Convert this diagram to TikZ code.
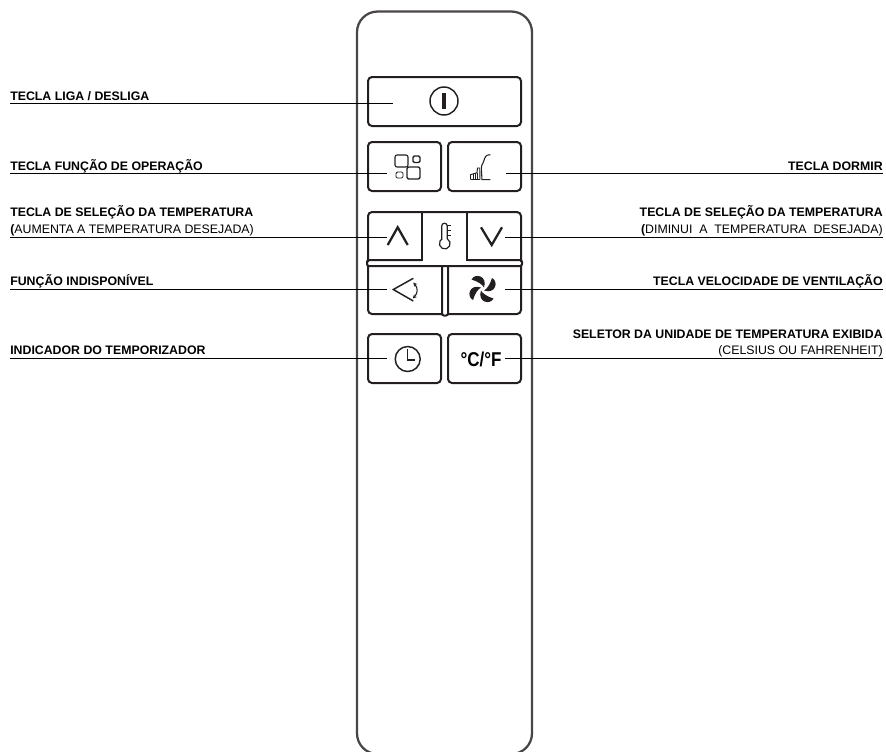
\documentclass[tikz,border=0pt]{standalone}
\usepackage{fontspec}
\setmainfont{Liberation Sans}
\usetikzlibrary{arrows.meta}
\definecolor{ink}{HTML}{231F20}
\definecolor{shell}{HTML}{4A4648}
\tikzset{
  shellline/.style={draw=shell,line width=1.7pt},
  keybox/.style={draw=ink,line width=1.5pt,rounded corners=3pt},
  leader/.style={draw=black,line width=0.8pt},
  icon/.style={draw=ink,line width=0.9pt},
  iconthick/.style={draw=ink,line width=1.7pt},
  lab/.style={inner sep=0pt,font=\fontsize{9.25pt}{10pt}\selectfont\bfseries},
  labn/.style={inner sep=0pt,font=\fontsize{9.25pt}{10pt}\selectfont},
}
\begin{document}
\begin{tikzpicture}[x=0.75pt,y=-0.75pt]
\useasboundingbox (0,0) rectangle (886,751);
% body
\begin{scope}
\clip (0,0) rectangle (886,751);
\draw[shellline,rounded corners=15.5pt] (357,11.5) rectangle (532,754);
\end{scope}
% keys
\draw[keybox] (368,77) rectangle (521,126);
\draw[keybox] (368,142) rectangle (441,191);
\draw[keybox] (448,142) rectangle (521,191);
\draw[keybox] (368,334) rectangle (441,383);
\draw[keybox] (448,334) rectangle (521,383);
\draw[keybox] (368,262) -- (368,212) -- (422,212) -- (467,212) -- (521,212) -- (521,262);
\draw[draw=ink,line width=1.9pt] (422,212) -- (422,260) -- (368,260);
\draw[draw=ink,line width=1.9pt] (467,212) -- (467,260) -- (521,260);
\draw[keybox] (368,265) -- (368,314) -- (442,314);
\draw[keybox] (521,265) -- (521,314) -- (448,314);
\draw[draw=ink,line width=1.5pt,rounded corners=1.5pt] (422,260) -- (367,260) -- (367,266) -- (522,266) -- (522,260) -- (467,260);
\draw[draw=ink,line width=1.5pt,rounded corners=1.5pt] (442,266) -- (442,315.5) -- (448,315.5) -- (448,266);
% leaders (nodes + coordinates)
\coordinate (kpow) at (393,103.5);
\coordinate (kfun) at (387,173.5);
\coordinate (kslp) at (506,173.5);
\coordinate (kup) at (387,237.5);
\coordinate (kdn) at (505,237.5);
\coordinate (kswg) at (387,289.5);
\coordinate (kfan) at (505,289.5);
\coordinate (ktim) at (387,358.5);
\coordinate (kunit) at (505,358.5);
\node[lab,anchor=base west] (tpow) at (10,100) {TECLA LIGA / DESLIGA};
\coordinate (lpow) at (10,103.5);
\node[lab,anchor=base west] (tfun) at (10,170) {TECLA FUNÇÃO DE OPERAÇÃO};
\coordinate (lfun) at (10,173.5);
\node[lab,anchor=base west] (tup) at (10,216) {TECLA DE SELEÇÃO DA TEMPERATURA};
\node[labn,anchor=base west] (tup2) at (10,233.5) {\textbf{(}AUMENTA A TEMPERATURA DESEJADA)};
\coordinate (lup) at (10,237.5);
\node[lab,anchor=base west] (tswg) at (10,285) {FUNÇÃO INDISPONÍVEL};
\coordinate (lswg) at (10,289.5);
\node[lab,anchor=base west] (ttim) at (10,354) {INDICADOR DO TEMPORIZADOR};
\coordinate (ltim) at (10,358.5);
\node[lab,anchor=base east] (tslp) at (883,170) {TECLA DORMIR};
\coordinate (rslp) at (883,173.5);
\node[lab,anchor=base east] (tdn) at (883,216) {TECLA DE SELEÇÃO DA TEMPERATURA};
\node[labn,anchor=base east] (tdn2) at (883,233.5) {\textbf{(}DIMINUI\ \ A\ \ TEMPERATURA\ \ DESEJADA)};
\coordinate (rdn) at (883,237.5);
\node[lab,anchor=base east] (tfan) at (883,285) {TECLA VELOCIDADE DE VENTILAÇÃO};
\coordinate (rfan) at (883,289.5);
\node[lab,anchor=base east] (tunit) at (883,338) {SELETOR DA UNIDADE DE TEMPERATURA EXIBIDA};
\node[labn,anchor=base east] (tunit2) at (883,354) {(CELSIUS OU FAHRENHEIT)};
\coordinate (runit) at (883,358.5);
\draw[leader] (lpow) -- (kpow);
\draw[leader] (lfun) -- (kfun);
\draw[leader] (rslp) -- (kslp);
\draw[leader] (lup) -- (kup);
\draw[leader] (rdn) -- (kdn);
\draw[leader] (lswg) -- (kswg);
\draw[leader] (rfan) -- (kfan);
\draw[leader] (ltim) -- (ktim);
\draw[leader] (runit) -- (kunit);
% power icon
\draw[icon,line width=1.1pt] (444,101) circle[radius=14];
\fill[ink] (442,93) rectangle (446,108.5);
% function icon
\draw[icon,rounded corners=1.5pt,line width=0.8pt] (395,155) rectangle (408,167);
\draw[icon,rounded corners=1pt,line width=1pt] (413,156) rectangle (420,162.5);
\draw[icon,rounded corners=1pt,line width=0.7pt] (396,172) rectangle (403,178);
\draw[icon,rounded corners=1.5pt,line width=1pt] (407,167) rectangle (420,179);
% sleep icon
\draw[icon,line width=0.8pt] (490.3,154.7) .. controls (485.5,154.7) and (485,157) .. (483.7,161.3) .. controls (482.5,165) and (481,165) .. (481.3,168) -- (482,179.7) -- (490.3,179.7);
\draw[icon,line width=0.7pt] (470.5,179.7) -- (470.5,174.7) -- (477,172.7) -- (477.5,168) -- (479.7,168) -- (480,179.7);
\draw[icon,line width=0.55pt] (473.2,174) -- (473.2,179.7) (475.5,173.4) -- (475.5,179.7) (477.6,172.7) -- (477.6,179.7) (470.5,179.7) -- (480,179.7);
% up, down
\draw[iconthick] (387.7,245) -- (397.7,227.3) -- (407.7,245);
\draw[iconthick] (481,227.3) -- (491.7,245) -- (502,227.3);
% thermometer
\draw[icon] (441.7,238.8) -- (441.7,226) arc[start angle=180,end angle=360,radius=2.8] -- (447.3,238.8) arc[start angle=-62,end angle=242,radius=5.4];
\draw[icon,line width=0.7pt] (447.3,225.7) -- (451,225.7) (447.3,230) -- (451,230) (447.3,235) -- (451,235);
% swing icon
\draw[icon,line width=1.1pt] (413.3,278.3) -- (393.3,289.5) -- (413.3,301);
\draw[draw=ink,line width=0.8pt,{Stealth[length=3pt,width=3pt]}-{Stealth[length=3pt,width=3pt]}] (413.3,282.5) .. controls (418,288) and (418,293) .. (412.8,298.5);
% fan
\foreach \a in {0,90,180,270}{
 \fill[ink,rotate around={\a:(482.5,289)}] (471.5,279.5) .. controls (475,272.5) and (488,276) .. (484,287.5) .. controls (482.5,284.5) and (478,281.5) .. (471.5,279.5) -- cycle;
}
% clock
\draw[icon,line width=1.1pt] (407.7,359) circle[radius=12.5];
\draw[icon,line width=1.1pt] (407.3,349) -- (407.3,360) -- (415,360);
% unit text
\node[inner sep=0pt,anchor=base,xscale=0.85,font=\fontsize{15pt}{15pt}\selectfont\bfseries] (tdeg) at (481,366.5) {°C/°F};
\end{tikzpicture}
\end{document}
